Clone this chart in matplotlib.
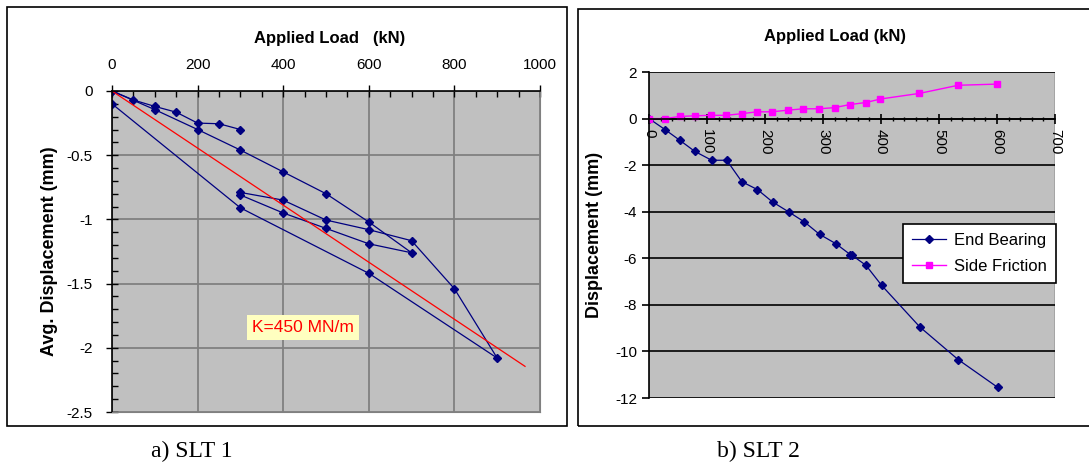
import numpy as np
import matplotlib
matplotlib.use('Agg')
import matplotlib.pyplot as plt
from matplotlib.patches import Rectangle
from matplotlib.ticker import MultipleLocator, FuncFormatter

plt.rcParams['font.family'] = ['Liberation Sans', 'DejaVu Sans']
plt.rcParams['axes.unicode_minus'] = False

# SLT 1 - cyclic load test (kN, mm)
load_c1 = [0, 50, 100, 150, 200, 250, 300]
disp_c1 = [0, -0.07, -0.12, -0.165, -0.25, -0.255, -0.30]

load_c2 = [0, 100, 200, 300, 400, 500, 600, 700, 600, 500, 400, 300]
disp_c2 = [0, -0.145, -0.30, -0.46, -0.63, -0.80, -1.02, -1.26, -1.19, -1.07, -0.95, -0.81]

load_c3 = [300, 400, 500, 600, 700, 800, 900, 600, 300, 0]
disp_c3 = [-0.79, -0.85, -1.005, -1.08, -1.166, -1.54, -2.08, -1.42, -0.91, -0.10]

stiffness = 450  # MN/m
fit_load = [0, 965]

# SLT 2
eb_load = [0, 28, 53, 79, 108, 134, 160, 187, 213, 241, 268, 294, 322, 347, 350,
           374, 401, 467, 533, 601]
eb_disp = [0, -0.48, -0.93, -1.41, -1.79, -1.79, -2.71, -3.05, -3.58, -4.01, -4.44,
           -4.97, -5.37, -5.84, -5.87, -6.30, -7.16, -8.95, -10.35, -11.54]

sf_load = [0, 27, 53, 79, 107, 133, 160, 186, 212, 239, 266, 293, 320, 346, 374,
           399, 466, 533, 600]
sf_disp = [0, 0.0, 0.09, 0.12, 0.14, 0.14, 0.21, 0.29, 0.29, 0.36, 0.42, 0.42, 0.47,
           0.60, 0.69, 0.84, 1.08, 1.43, 1.48]

navy = '#000080'
bg = '#C0C0C0'

fig = plt.figure(figsize=(10.89, 4.67), dpi=100)

# outer frames of the two panels
fig.patches.append(Rectangle((7 / 1089, 1 - 426 / 467), 560 / 1089, 419 / 467,
                             transform=fig.transFigure, fill=False, ec='black', lw=1.2))
fig.patches.append(Rectangle((578 / 1089, 1 - 426 / 467), 520 / 1089, 417 / 467,
                             transform=fig.transFigure, fill=False, ec='black', lw=1.2))

# ---------------- a) SLT 1 ----------------
ax1 = fig.add_axes([112 / 1089, 1 - 412 / 467, 428 / 1089, 321 / 467])
ax1.set_facecolor(bg)
for ld, dp in [(load_c1, disp_c1), (load_c2, disp_c2), (load_c3, disp_c3)]:
    ax1.plot(ld, dp, color=navy, lw=0.9, marker='D', ms=4.5, mfc=navy, mec=navy)
ax1.plot(fit_load, [-v / stiffness for v in fit_load], color='red', lw=0.9)

ax1.set_xlim(0, 1000)
ax1.set_ylim(-2.5, 0)
ax1.xaxis.tick_top()
ax1.xaxis.set_major_locator(MultipleLocator(200))
ax1.xaxis.set_minor_locator(MultipleLocator(50))
ax1.yaxis.set_major_locator(MultipleLocator(0.5))
ax1.yaxis.set_minor_locator(MultipleLocator(0.1))
ax1.yaxis.set_major_formatter(FuncFormatter(lambda v, p: '%g' % v))
ax1.tick_params(which='major', direction='inout', length=8, width=1, labelsize=11, pad=10)
ax1.tick_params(which='minor', direction='in', length=4, width=1)
ax1.tick_params(axis='x', which='both', top=True, bottom=False)
ax1.grid(True, which='major', color='#808080', lw=1.3)
ax1.set_axisbelow(True)
for s in ['right', 'bottom']:
    ax1.spines[s].set_color('#808080')
for s in ['left', 'top']:
    ax1.spines[s].set_color('black')
    ax1.spines[s].set_linewidth(1.2)
ax1.set_ylabel('Avg. Displacement (mm)', fontsize=13, fontweight='bold')
ax1.yaxis.set_label_coords(-0.125, 0.5)
ax1.text(447, -1.84, 'K=450 MN/m', color='red', fontsize=12.5, ha='center', va='center',
         bbox=dict(boxstyle='square,pad=0.3', fc='#FFFFC0', ec='none'))

fig.text(330 / 1089, 1 - 38 / 467, 'Applied Load   (kN)', ha='center', va='center',
         fontsize=12, fontweight='bold')

# ---------------- b) SLT 2 ----------------
ax2 = fig.add_axes([649 / 1089, 1 - 398 / 467, 406 / 1089, 326 / 467])
ax2.set_facecolor(bg)
ax2.plot(eb_load, eb_disp, color=navy, lw=0.9, marker='D', ms=4.5, mfc=navy, mec=navy,
         label='End Bearing')
ax2.plot(sf_load, sf_disp, color='#FF00FF', lw=1.0, marker='s', ms=4.5, mfc='#FF00FF',
         mec='#FF00FF', label='Side Friction')
ax2.set_xlim(0, 700)
ax2.set_ylim(-12, 2)
ax2.xaxis.set_major_locator(MultipleLocator(100))
ax2.xaxis.set_minor_locator(MultipleLocator(20))
ax2.yaxis.set_major_locator(MultipleLocator(2))
ax2.spines['bottom'].set_position(('data', 0))
ax2.spines['bottom'].set_linewidth(1.2)
ax2.spines['left'].set_linewidth(1.2)
ax2.spines['right'].set_visible(False)
ax2.spines['top'].set_visible(False)
ax2.add_patch(Rectangle((0, 0), 1, 1, transform=ax2.transAxes, fill=False,
                        ec='#A0A0A0', lw=1.2, zorder=0.5))
ax2.tick_params(axis='x', which='major', direction='inout', length=7, width=1.2,
                labelsize=11, labelrotation=-90, pad=4)
ax2.tick_params(axis='x', which='minor', direction='inout', length=3, width=1)
ax2.tick_params(axis='y', which='major', direction='out', length=5, width=1.2, labelsize=11)
for lab in ax2.get_xticklabels():
    lab.set_va('top')
ax2.grid(True, axis='y', color='black', lw=1.2)
ax2.set_axisbelow(True)
ax2.set_ylabel('Displacement (mm)', fontsize=13, fontweight='bold')
ax2.yaxis.set_label_coords(-0.113, 0.5)
leg = ax2.legend(loc='upper left', bbox_to_anchor=((903 - 649) / 406, (398 - 224) / 326),
                 fontsize=12, frameon=True, fancybox=False, framealpha=1,
                 edgecolor='black', borderpad=0.55, handlelength=2.0, labelspacing=0.65,
                 handletextpad=0.5, borderaxespad=0)
leg.get_frame().set_linewidth(1.2)

fig.text(835 / 1089, 1 - 36 / 467, 'Applied Load (kN)', ha='center', va='center',
         fontsize=12, fontweight='bold')

# captions
fig.text(192 / 1089, 1 - 451 / 467, 'a) SLT 1', ha='center', va='center',
         fontsize=17, family='Liberation Serif')
fig.text(758 / 1089, 1 - 451 / 467, 'b) SLT 2', ha='center', va='center',
         fontsize=17, family='Liberation Serif')

fig.savefig('out.png', dpi=100)
